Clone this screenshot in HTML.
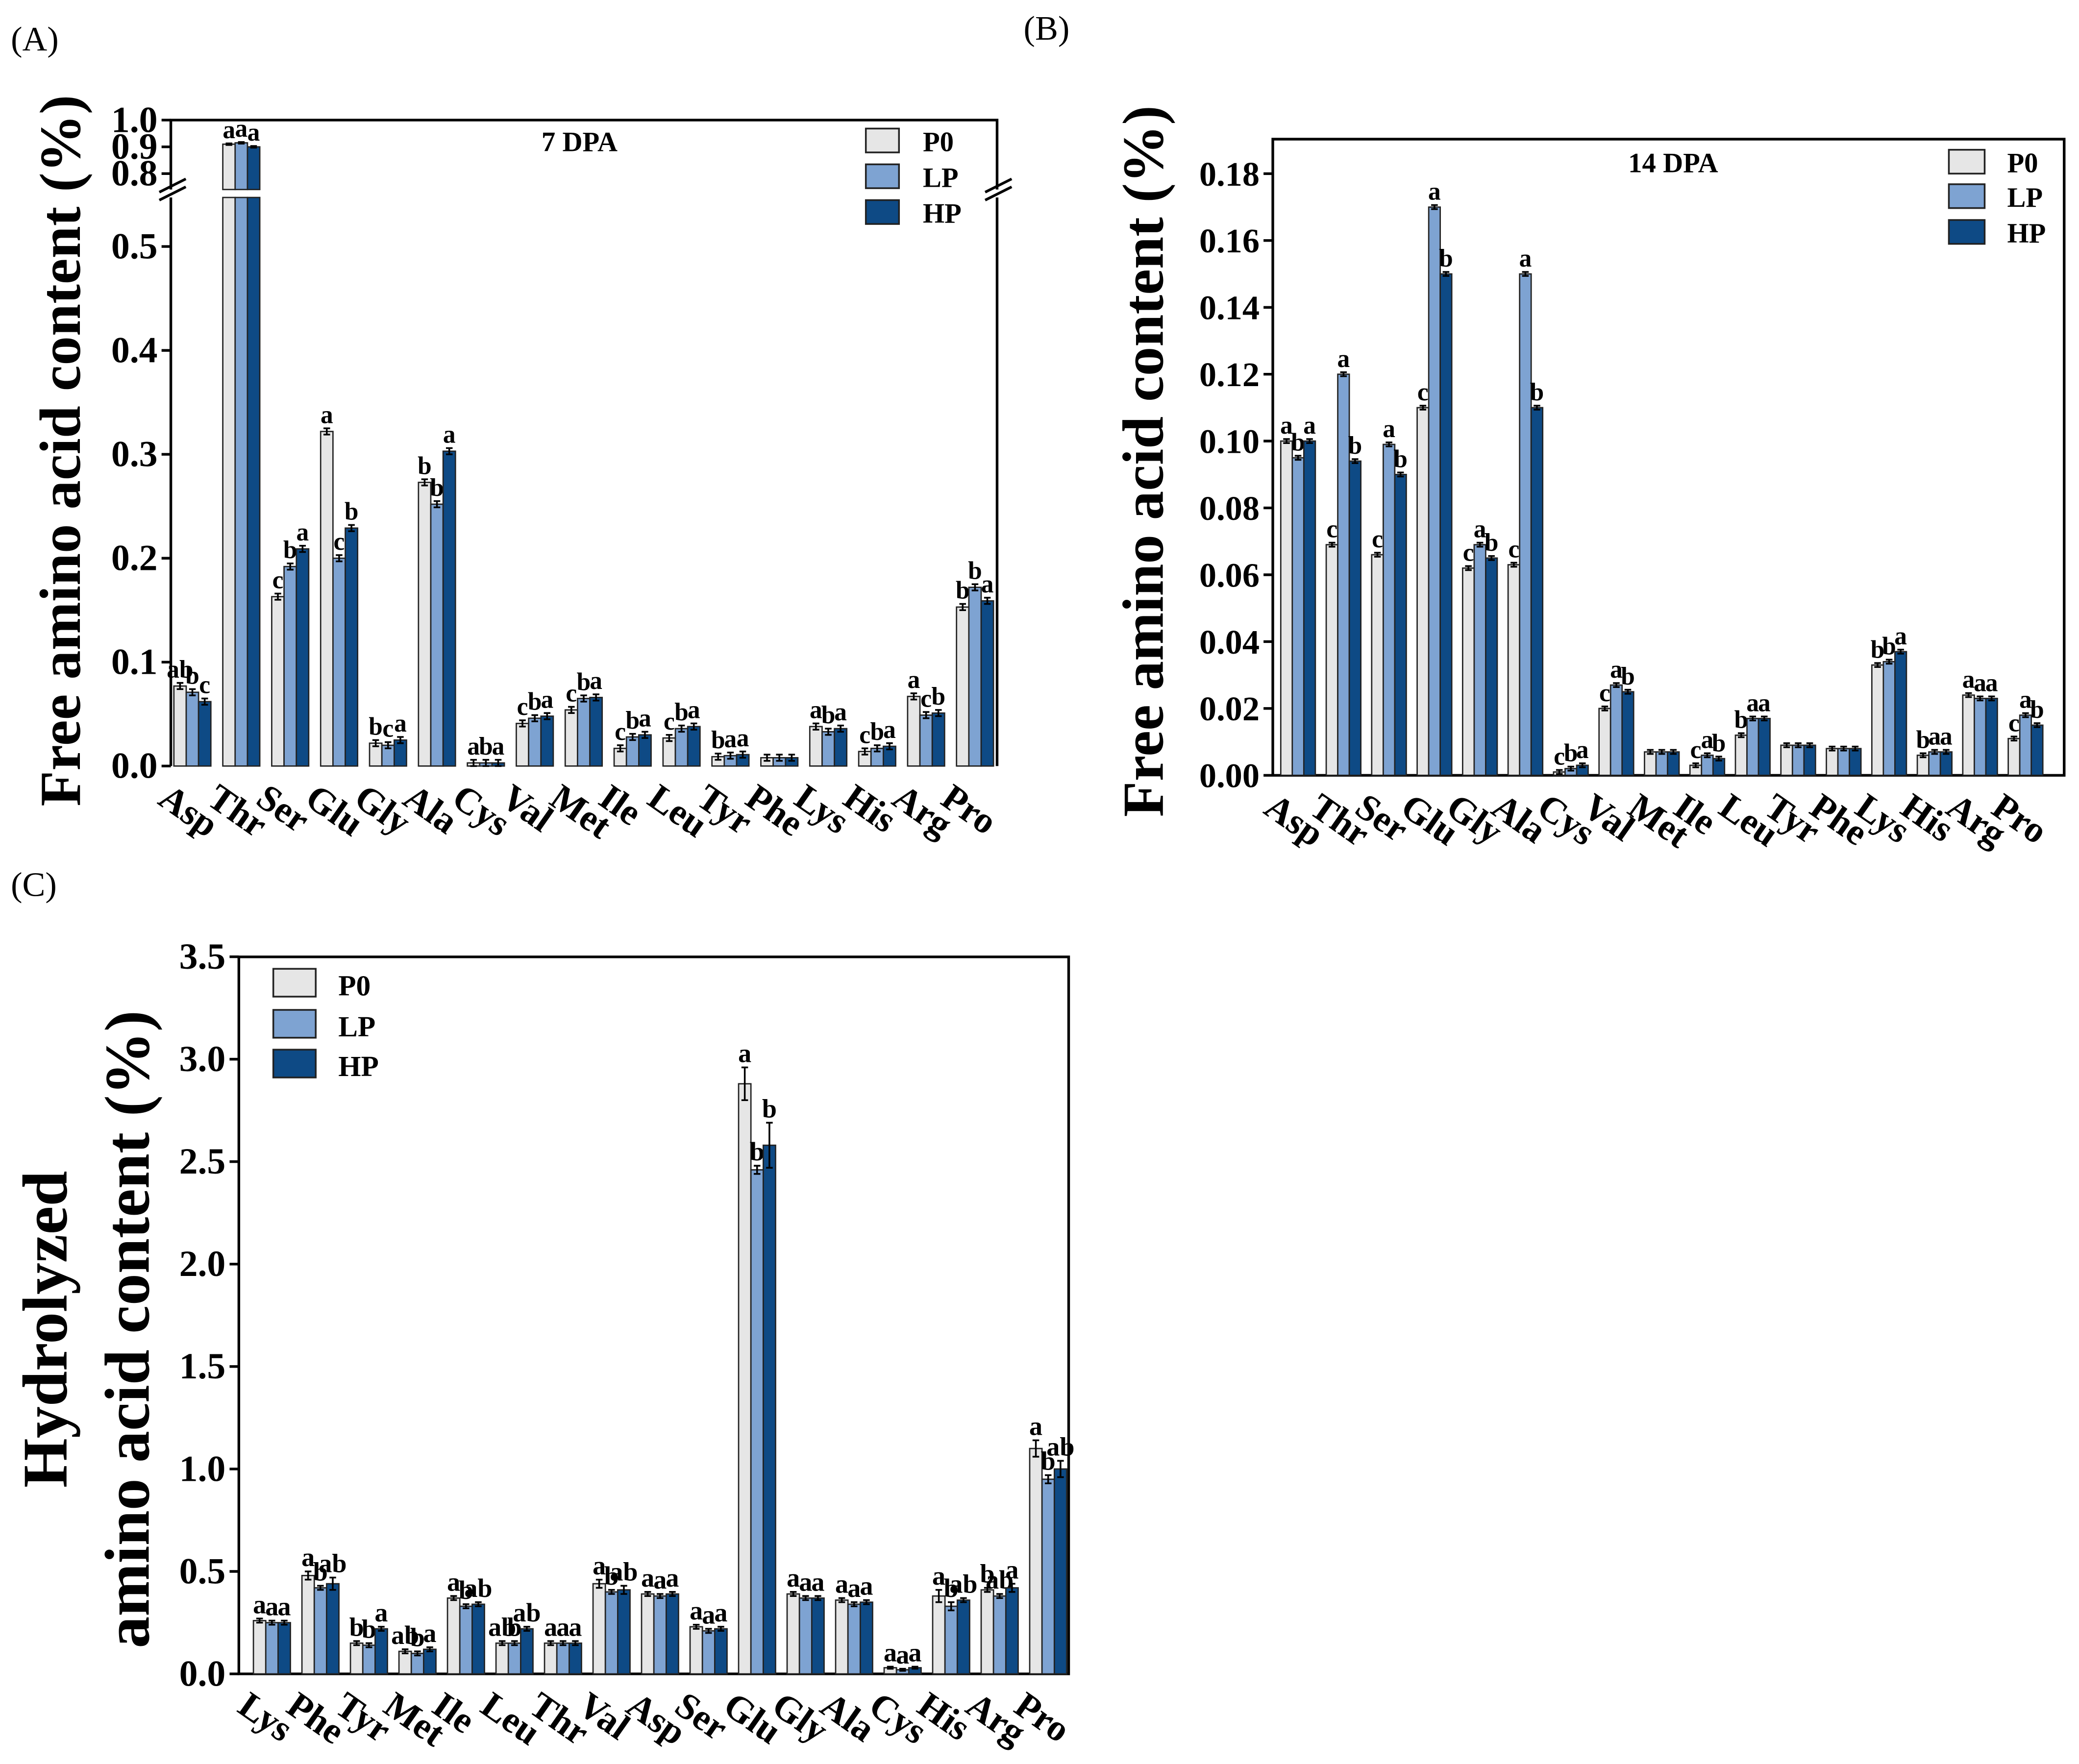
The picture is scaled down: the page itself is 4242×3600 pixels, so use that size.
<!DOCTYPE html>
<html><head><meta charset="utf-8"><style>
html,body{margin:0;padding:0;background:#fff;}
svg{display:block;}
text{font-family:"Liberation Serif",serif;}
</style></head><body>
<svg id="fig" width="4242" height="3600" viewBox="0 0 1568 1331" xmlns="http://www.w3.org/2000/svg"></svg>
<script>
const catsA=["Asp","Thr","Ser","Glu","Gly","Ala","Cys","Val","Met","Ile","Leu","Tyr","Phe","Lys","His","Arg","Pro"];
const p0A=[0.077,0.91,0.163,0.322,0.022,0.273,0.003,0.041,0.054,0.017,0.027,0.009,0.008,0.038,0.014,0.067,0.153];
const lpA=[0.071,0.915,0.192,0.200,0.020,0.252,0.003,0.046,0.065,0.028,0.036,0.010,0.008,0.033,0.017,0.049,0.172];
const hpA=[0.062,0.90,0.209,0.229,0.025,0.303,0.003,0.048,0.066,0.030,0.038,0.011,0.008,0.036,0.019,0.051,0.159];
const letP0A=["ab","a","c","a","b","b","a","c","c","c","c","b","","a","c","a","b"];
const letLPA=["b","a","b","c","c","b","b","b","b","b","b","a","","b","b","c","b"];
const letHPA=["c","a","a","b","a","a","a","a","a","a","a","a","","a","a","b","a"];

const catsB=["Asp","Thr","Ser","Glu","Gly","Ala","Cys","Val","Met","Ile","Leu","Tyr","Phe","Lys","His","Arg","Pro"];
const p0B=[0.100,0.069,0.066,0.110,0.062,0.063,0.001,0.020,0.007,0.003,0.012,0.009,0.008,0.033,0.006,0.024,0.011];
const lpB=[0.095,0.120,0.099,0.170,0.069,0.150,0.002,0.027,0.007,0.006,0.017,0.009,0.008,0.034,0.007,0.023,0.018];
const hpB=[0.100,0.094,0.090,0.150,0.065,0.110,0.003,0.025,0.007,0.005,0.017,0.009,0.008,0.037,0.007,0.023,0.015];
const letP0B=["a","c","c","c","c","c","c","c","","c","b","","","b","b","a","c"];
const letLPB=["b","a","a","a","a","a","b","a","","a","a","","","b","a","a","a"];
const letHPB=["a","b","b","b","b","b","a","b","","b","a","","","a","a","a","b"];

const catsC=["Lys","Phe","Tyr","Met","Ile","Leu","Thr","Val","Asp","Ser","Glu","Gly","Ala","Cys","His","Arg","Pro"];
const p0C=[0.26,0.48,0.15,0.11,0.37,0.15,0.15,0.44,0.39,0.23,2.88,0.39,0.36,0.03,0.38,0.41,1.10];
const lpC=[0.25,0.42,0.14,0.10,0.33,0.15,0.15,0.40,0.38,0.21,2.46,0.37,0.34,0.02,0.33,0.38,0.95];
const hpC=[0.25,0.44,0.22,0.12,0.34,0.22,0.15,0.41,0.39,0.22,2.58,0.37,0.35,0.03,0.36,0.42,1.00];
const errP0C=[0.01,0.02,0.01,0.01,0.01,0.01,0.01,0.02,0.01,0.01,0.08,0.01,0.01,0.005,0.03,0.01,0.04];
const errLPC=[0.01,0.01,0.01,0.01,0.01,0.01,0.01,0.01,0.01,0.01,0.02,0.01,0.01,0.005,0.02,0.01,0.02];
const errHPC=[0.01,0.03,0.01,0.01,0.01,0.01,0.01,0.02,0.01,0.01,0.11,0.01,0.01,0.005,0.01,0.02,0.04];
const letP0C=["a","a","b","ab","a","ab","a","a","a","a","a","a","a","a","a","b","a"];
const letLPC=["a","b","b","b","b","b","a","b","a","a","b","a","a","a","b","ab","b"];
const letHPC=["a","ab","a","a","ab","ab","a","ab","a","a","b","a","a","a","ab","a","ab"];

const NS="http://www.w3.org/2000/svg";
const svg=document.getElementById('fig');
const COL=["#e6e6e6","#7ea3d2","#0e4a85"];
function mk(tag,attrs,parent){const e=document.createElementNS(NS,tag);for(const k in attrs)e.setAttribute(k,attrs[k]);(parent||svg).appendChild(e);return e;}
function txt(s,attrs,parent){const e=mk('text',attrs,parent);e.textContent=s;return e;}

function panel(cfg){
  const g=mk('g',{});
  
  
  const {L,R,T,B}=cfg;
  const fr=mk('path',{d:cfg.framePath||`M${L},${B}V${T}H${R}V${B}Z`,fill:'none',stroke:'#000','stroke-width':2},g);
  
  
  cfg.ticks.forEach(t=>{
    const y=cfg.y(t.v);
    mk('line',{x1:L-7,x2:L,y1:y,y2:y,stroke:'#000','stroke-width':2},g);
    const tl=txt(t.s,{x:L-10,y:y+9,'text-anchor':'end','font-size':cfg.tickFs,'font-weight':'bold'},g);
    
    
  });
  const series=[cfg.p0,cfg.lp,cfg.hp];
  const errs=cfg.errs;
  const lets=cfg.lets;
  const snames=['p0','lp','hp'];
  cfg.cats.forEach((c,i)=>{
    const gx=cfg.x0+i*cfg.pitch;
    for(let s=0;s<3;s++){
      const v=series[s][i];
      const x=gx+s*cfg.bw;
      const yb=cfg.y(0);
      if(cfg.brk && v>cfg.brk.lo){
        const r1=mk('rect',{x:x,y:cfg.brk.yLow,width:cfg.bw,height:yb-cfg.brk.yLow,fill:COL[s],stroke:'#222','stroke-width':1},g);
        
        
        const yt=cfg.y(v);
        const r2=mk('rect',{x:x,y:yt,width:cfg.bw,height:cfg.brk.yHigh-yt,fill:COL[s],stroke:'#222','stroke-width':1},g);
        
        
      } else {
        const yt=cfg.y(v);
        const r=mk('rect',{x:x,y:yt,width:cfg.bw,height:Math.max(0.5,yb-yt),fill:COL[s],stroke:'#222','stroke-width':1},g);
        
        
      }
      const e=errs?errs[s][i]:cfg.err;
      const y1=cfg.y(v+e), y2=cfg.y(Math.max(0,v-e));
      const cx=x+cfg.bw/2;
      mk('path',{d:`M${cx},${y1}V${y2}M${cx-2.5},${y1}H${cx+2.5}M${cx-2.5},${y2}H${cx+2.5}`,stroke:'#000','stroke-width':1.3,fill:'none'},g);
      const l=lets[s][i];
      if(l){
        const lt=txt(l,{x:cx,y:y1-4,'text-anchor':'middle','font-size':cfg.letFs,'font-weight':'bold'},g);
        
        
      }
    }
    const lx=gx+1.5*cfg.bw, ly=B+12;
    const ct=txt(c,{x:lx-16,y:ly,'font-size':cfg.catFs,'font-weight':'bold',transform:`rotate(35 ${lx-16} ${ly})`,'dominant-baseline':'hanging'},g);
    
    
  });
  const names=['P0','LP','HP'];
  cfg.leg.ys.forEach((yy,s)=>{
    const r=mk('rect',{x:cfg.leg.x,y:yy,width:cfg.leg.w,height:cfg.leg.h,fill:COL[s],stroke:'#222','stroke-width':1.3},g);
    
    
    const t=txt(names[s],{x:cfg.leg.tx,y:yy+cfg.leg.h-1,'font-size':cfg.leg.fs,'font-weight':'bold'},g);
    
    
  });
  return g;
}

const yA=v=> v<=0.56 ? 578 - v*784 : 90.6-(v-1.0)*202;
const gA=panel({name:'panel-a-chart',L:128.7,R:752,T:90.6,B:578,y:yA,
  framePath:'M128.7,578V149M128.7,143V90.6H752V143M752,149V578Z',
  ticks:[{v:0,s:'0.0'},{v:0.1,s:'0.1'},{v:0.2,s:'0.2'},{v:0.3,s:'0.3'},{v:0.4,s:'0.4'},{v:0.5,s:'0.5'},{v:0.8,s:'0.8'},{v:0.9,s:'0.9'},{v:1.0,s:'1.0'}],
  tickFs:28,cats:catsA,p0:p0A,lp:lpA,hp:hpA,err:0.003,lets:[letP0A,letLPA,letHPA],
  x0:131,pitch:36.9,bw:9.3,letFs:19,catFs:28,brk:{lo:0.56,yLow:149,yHigh:143},
  leg:{x:653,ys:[97,124,151],w:25,h:18,tx:696,fs:21}});
['M120,151L140,141','M120,145L140,135','M743,151L763,141','M743,145L763,135'].forEach(d=>{mk('path',{d:d,stroke:'#000','stroke-width':2},gA);});
txt('7 DPA',{x:437,y:114,'text-anchor':'middle','font-size':21,'font-weight':'bold'},gA);

const yB=v=>585 - v*2522;
const ticksB=[];['0.00','0.02','0.04','0.06','0.08','0.10','0.12','0.14','0.16','0.18'].forEach(s=>ticksB.push({v:parseFloat(s),s:s}));
const gB=panel({name:'panel-b-chart',L:960,R:1557,T:105,B:585,y:yB,ticks:ticksB,tickFs:26,
  cats:catsB,p0:p0B,lp:lpB,hp:hpB,err:0.0006,lets:[letP0B,letLPB,letHPB],
  x0:966,pitch:34.3,bw:8.7,letFs:19,catFs:28,
  leg:{x:1470,ys:[113,139,166],w:27,h:18,tx:1514,fs:21}});
txt('14 DPA',{x:1262,y:130,'text-anchor':'middle','font-size':21,'font-weight':'bold'},gB);

const yC=v=>1263 - v*154.6;
const ticksC=[];['0.0','0.5','1.0','1.5','2.0','2.5','3.0','3.5'].forEach(s=>ticksC.push({v:parseFloat(s),s:s}));
panel({name:'panel-c-chart',L:180,R:806,T:722,B:1263,y:yC,ticks:ticksC,tickFs:28,
  cats:catsC,p0:p0C,lp:lpC,hp:hpC,errs:[errP0C,errLPC,errHPC],lets:[letP0C,letLPC,letHPC],
  x0:191,pitch:36.6,bw:9.3,letFs:20,catFs:28,
  leg:{x:206,ys:[731,762,792],w:32,h:21,tx:255,fs:22}});

function lab(s,x,y,fs,name){const t=txt(s,{x:x,y:y,'text-anchor':'middle','font-size':fs,'font-weight':'bold',transform:`rotate(-90 ${x} ${y})`});}
lab('Free amino acid content (%)',60,340,44,'panel-a-y-axis-title');
lab('Free amino acid content (%)',877,348,44,'panel-b-y-axis-title');
lab('Hydrolyzed',50,1003,48,'panel-c-y-axis-title-line1');
lab('amino acid content (%)',112,1003,48,'panel-c-y-axis-title-line2');
[['(A)',8,38],['(B)',772,30],['(C)',8,676]].forEach(a=>{const t=txt(a[0],{x:a[1],y:a[2],'font-size':26});});
</script>
</body></html>
